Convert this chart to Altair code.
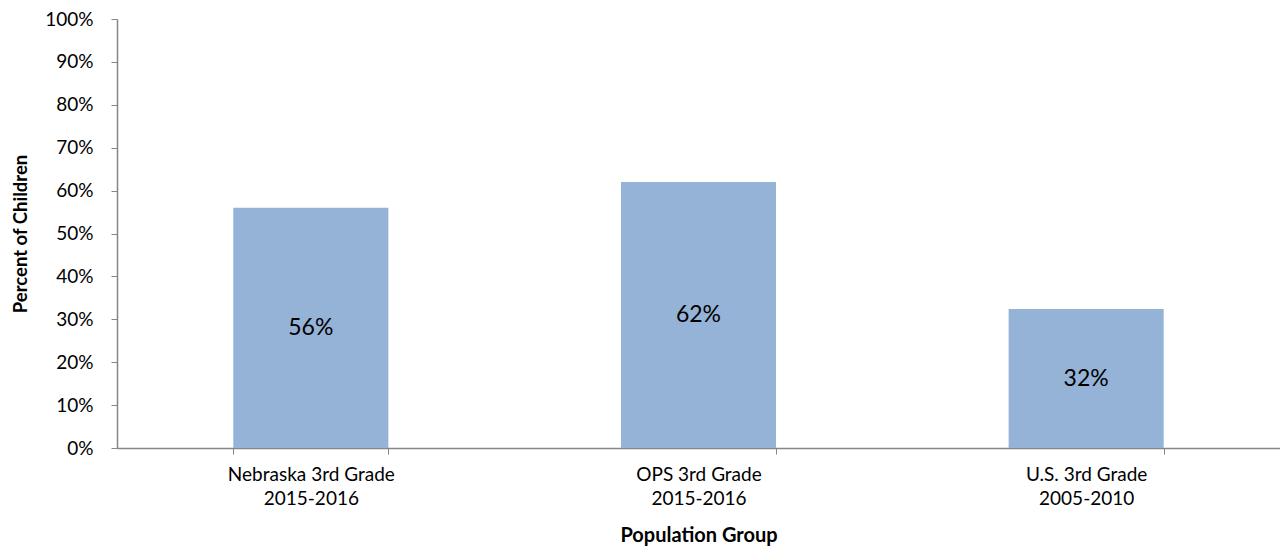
import altair as alt
import pandas as pd

groups = ["Nebraska 3rd Grade|2015-2016", "OPS 3rd Grade|2015-2016", "U.S. 3rd Grade|2005-2010"]
values = [0.56, 0.62, 0.324]
labels = ["56%", "62%", "32%"]

df = pd.DataFrame({"group": groups, "value": values, "label": labels})

FONT = "Lato"
GREY = "#868686"

x = alt.X("group:N", sort=groups, title="Population Group",
          scale=alt.Scale(paddingInner=0.6, paddingOuter=0.3),
          axis=alt.Axis(labelAngle=0, labelExpr="split(datum.label, '|')",
                        labelFontSize=19, labelFont=FONT, labelColor="#000",
                        labelPadding=11, labelLineHeight=24,
                        tickBand="extent", tickSize=6, tickColor=GREY,
                        domainColor=GREY, domainWidth=1.5,
                        titleFont=FONT, titleFontSize=20, titleFontWeight="bold",
                        titleColor="#000", titlePadding=17))

bars = alt.Chart(df).mark_bar(color="#95B3D7").encode(
    x=x,
    y=alt.Y("value:Q", title="Percent of Children",
            scale=alt.Scale(domain=[0, 1], nice=False),
            axis=alt.Axis(values=[i / 10 for i in range(11)], format=".0%",
                          grid=False, labelFontSize=19, labelFont=FONT,
                          labelColor="#000", labelPadding=18,
                          tickSize=6, tickColor=GREY, domainColor=GREY,
                          domainWidth=1.5,
                          titleFont=FONT, titleFontSize=18.5,
                          titleFontWeight="bold", titleColor="#000",
                          titlePadding=14)),
)

text = alt.Chart(df).transform_calculate(mid="datum.value / 2").mark_text(
    font=FONT, fontSize=23, color="#000", baseline="middle"
).encode(
    x=alt.X("group:N", sort=groups),
    y=alt.Y("mid:Q"),
    text="label:N",
)

chart = alt.layer(bars, text).properties(
    width=1163, height=429,
    autosize=alt.AutoSizeParams(type="none"),
    padding={"left": 109, "top": 11, "right": 0, "bottom": 100},
).configure_view(stroke=None)

chart.save("out.html", embed_options={"renderer": "svg", "actions": False})
